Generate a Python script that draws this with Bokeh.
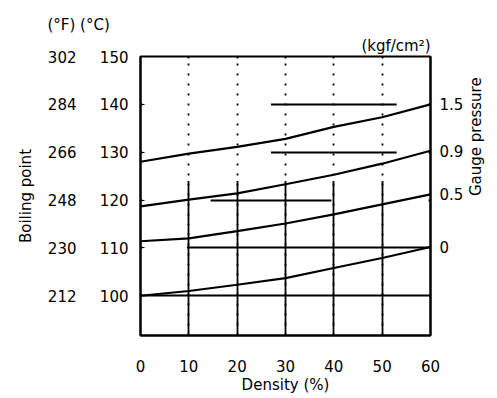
import math
from bokeh.plotting import figure
from bokeh.models import (Range1d, LinearAxis, FixedTicker, Grid, Title,
                          CustomJSTickFormatter, BoxAnnotation)
from bokeh.embed import file_html
from bokeh.resources import INLINE

# ---- data ----
density = [0, 10, 20, 30, 40, 50, 60]
bp_g0 = [100.0, 101.0, 102.3, 103.7, 105.8, 107.9, 110.2]
bp_g05 = [111.4, 112.0, 113.5, 115.1, 117.0, 119.1, 121.2]
bp_g09 = [118.7, 120.1, 121.4, 123.3, 125.3, 127.6, 130.3]
bp_g15 = [128.0, 129.7, 131.1, 132.8, 135.3, 137.3, 140.0]
gauge_labels = ["0", "0.5", "0.9", "1.5"]
x_ticks = [0, 10, 20, 30, 40, 50, 60]
c_ticks = [100, 110, 120, 130, 140, 150]

series = [bp_g0, bp_g05, bp_g09, bp_g15]

FONT = "DejaVu Sans"
FS = "15px"

p = figure(width=497, height=398, output_backend="svg", toolbar_location=None,
           x_range=Range1d(0, 60), y_range=Range1d(91.7, 150),
           min_border_left=140, min_border_right=65, min_border_top=56,
           min_border_bottom=63, x_axis_location=None, y_axis_location=None)
p.outline_line_color = "black"
p.outline_line_width = 2
p.background_fill_color = "white"
p.border_fill_color = "white"
p.grid.visible = False

def style_axis(ax):
    ax.major_label_text_font = FONT
    ax.major_label_text_font_size = FS
    ax.major_label_text_color = "black"
    ax.axis_label_text_font = FONT
    ax.axis_label_text_font_size = FS
    ax.axis_label_text_font_style = "normal"
    ax.axis_label_text_color = "black"
    ax.axis_line_color = "black"
    ax.axis_line_width = 2
    ax.major_tick_line_color = "black"
    ax.minor_tick_line_color = None

# headers (titles stacked above the frame)
t_kgf = Title(text="(kgf/cm²)", align="right", offset=0, standoff=3,
              text_font=FONT, text_font_size=FS, text_font_style="normal",
              text_color="black")
p.add_layout(t_kgf, "above")
t_fc = Title(text="(°F)  (°C)", align="left", offset=-93, standoff=0,
             text_font=FONT, text_font_size=FS, text_font_style="normal",
             text_color="black")
p.add_layout(t_fc, "above")

# bottom axis
xb = LinearAxis(ticker=FixedTicker(ticks=x_ticks), axis_label="Density (%)")
style_axis(xb)
xb.major_tick_out = 0
xb.major_tick_in = 0
xb.major_label_standoff = 24
xb.axis_label_standoff = 1
p.add_layout(xb, "below")

# °C axis (inner left)
yc = LinearAxis(ticker=FixedTicker(ticks=c_ticks))
style_axis(yc)
yc.major_tick_out = 0
yc.major_tick_in = 4
yc.major_label_standoff = 12
p.add_layout(yc, "left")

# °F axis (outer left)
yf = LinearAxis(ticker=FixedTicker(ticks=c_ticks), axis_label="Boiling point",
                formatter=CustomJSTickFormatter(code="return (tick*9/5+32).toFixed(0);"))
style_axis(yf)
yf.axis_line_color = None
yf.major_tick_line_color = None
yf.major_label_standoff = 14
yf.axis_label_standoff = 10
p.add_layout(yf, "left")

# right gauge-pressure axis (tick labels at the curve ends)
ends = [s[-1] for s in series]
yr = LinearAxis(ticker=FixedTicker(ticks=ends), axis_label="Gauge pressure",
                formatter=CustomJSTickFormatter(
                    args=dict(ends=ends, labels=gauge_labels),
                    code="""
let best = 0, d = 1e9;
for (let i = 0; i < ends.length; i++) {
  const dd = Math.abs(ends[i] - tick);
  if (dd < d) { d = dd; best = i; }
}
return labels[best];
"""))
style_axis(yr)
yr.major_tick_out = 0
yr.major_tick_in = 0
yr.major_label_standoff = 9
yr.axis_label_standoff = 10
try:
    yr.axis_label_orientation = math.pi / 2
except Exception:
    pass
p.add_layout(yr, "right")

# ---- grid: solid lines, partly masked like the worn reference scan ----
LW = 1.8
def grid(dim, ticks, dash="solid"):
    g = Grid(dimension=dim, ticker=FixedTicker(ticks=ticks),
             grid_line_color="black", grid_line_width=LW, grid_line_dash=dash)
    p.add_layout(g)

def mask(left, right, bottom, top):
    p.add_layout(BoxAnnotation(left=left, right=right, bottom=bottom, top=top,
                               fill_color="white", fill_alpha=1.0,
                               line_color=None, level="underlay"))

grid(1, [100, 110, 120])
mask(0.4, 9.6, 108.5, 111.5)      # 110 line starts at 10 %
mask(0.4, 14.5, 118.8, 121.2)     # 120 line only in the middle
mask(39.5, 59.6, 118.8, 121.2)
grid(0, [10, 20, 30, 40, 50])
mask(0.4, 59.6, 124.0, 149.6)     # upper area: grid worn away
grid(1, [130, 140])
mask(0.4, 27.0, 125.0, 145.0)
mask(53.0, 59.6, 125.0, 145.0)
grid(0, [10, 20, 30, 40, 50], dash="2 8")

for s in series:
    p.line(density, s, line_color="black", line_width=2.2)

open("out.html", "w").write(file_html(p, INLINE))
